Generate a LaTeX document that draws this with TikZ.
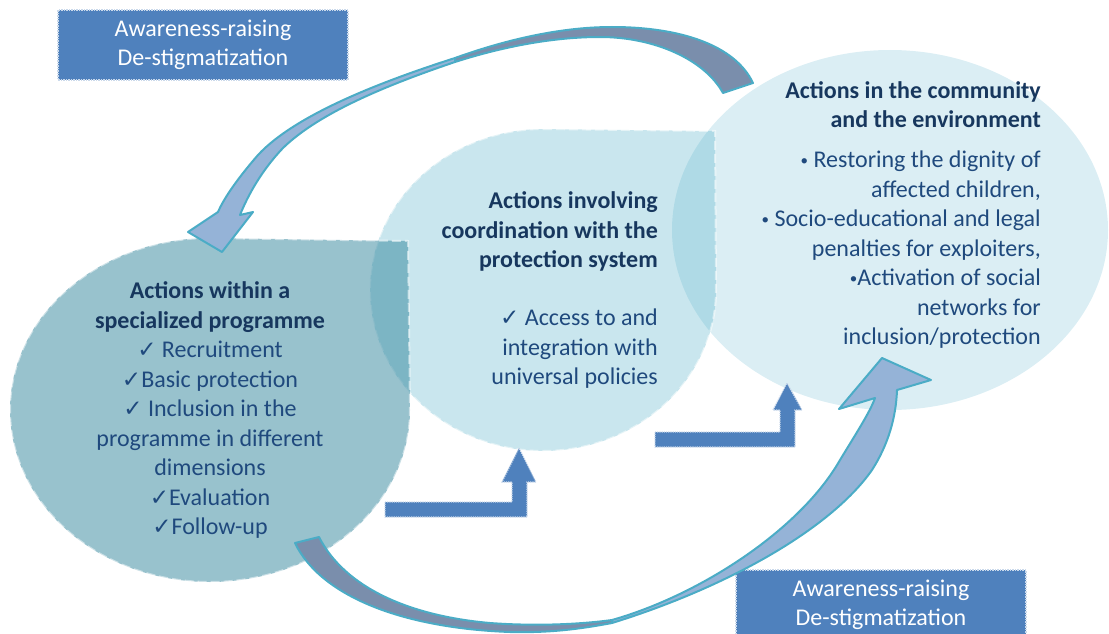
\documentclass[tikz,border=0pt]{standalone}
\usepackage{fontspec}
\setmainfont{Carlito}
\newfontfamily\symfont{DejaVu Sans}
\usepackage{tikz}
\usepackage{xcolor}
\definecolor{progfill}{HTML}{31859C}
\definecolor{coordfill}{HTML}{4BACC6}
\definecolor{headtext}{HTML}{17375E}
\definecolor{bodytext}{HTML}{1F497D}
\definecolor{boxblue}{HTML}{4F81BD}
\definecolor{arrowline}{HTML}{4BACC6}
\definecolor{arrowback}{HTML}{7A8EAC}
\definecolor{arrowfront}{HTML}{95B3D7}

\newcommand{\hd}[1]{{\bfseries\color{headtext}#1}}
\newcommand{\chk}{{\symfont\fontsize{23}{23}\selectfont ✓}}
\newcommand{\bul}{\raisebox{2.5pt}{\fontsize{15}{15}\selectfont •}}

\begin{document}
\begin{tikzpicture}
    [
      x=1pt, y=-1pt,
      every node/.style={font=\fontsize{24}{29.5}\selectfont, inner sep=0pt},
      blob/.style={draw=white, draw opacity=0.5, line width=2pt, dash pattern=on 9pt off 4pt},
      ribbon/.style={draw=arrowline, line width=2pt, line join=round},
      bentarrow/.style={fill=boxblue, draw=boxblue!30, line width=1.2pt, densely dotted},
      awarebox/.style={fill=boxblue, draw=boxblue!30, line width=1.5pt, densely dotted,
        text=white, align=center, minimum width=290pt, minimum height=70pt}
    ]
    \useasboundingbox (0,0) rectangle (1109,634);

    % action fields
    \fill[coordfill, fill opacity=0.2] (890,230) ellipse [x radius=218, y radius=180];
    \filldraw[blob, fill=coordfill, fill opacity=0.3] (543,129) -- (715,131) -- (716,290)
        arc [start angle=0, end angle=270, x radius=173, y radius=161] -- cycle;
    \filldraw[blob, fill=progfill, fill opacity=0.5] (210,238) -- (408,241) -- (410,410)
        arc [start angle=0, end angle=270, x radius=200, y radius=172] -- cycle;

    \node[awarebox] (awaretop) at (203,45) {Awareness-raising\\De-stigmatization};
    \node[awarebox] (awarebot) at (881,605) {Awareness-raising\\De-stigmatization};

    \node[align=center, text=bodytext] (prog) at (210,410)
      {\hd{Actions within a}\\ \hd{specialized programme}\\ \chk\ Recruitment\\
       \chk Basic protection\\ \chk\ Inclusion in the\\ programme in different\\
       dimensions\\ \chk Evaluation\\ \chk Follow-up};
    \node[align=right, text=bodytext, anchor=east] (coord) at (658,290)
      {\hd{Actions involving}\\ \hd{coordination with the}\\ \hd{protection system}\\[28.5pt]
       \chk\ Access to and\\ integration with\\ universal policies};
    \node[align=right, text=bodytext, anchor=east] (comm) at (1041,215)
      {\hd{Actions in the community}\\ \hd{and the environment}\\[10.5pt]
       \bul\ Restoring the dignity of\\ affected children,\\ \bul\ Socio-educational and legal\\
       penalties for exploiters,\\ \bul Activation of social\\ networks for\\ inclusion/protection};

    % curved arrows
    \coordinate (topend) at (222,252);
    \filldraw[ribbon, fill=arrowback] (753,83) .. controls (735,45) and (680,27) .. (612,27)
        .. controls (560,27) and (505,40) .. (455,58) -- (455,62)
        .. controls (505,46) and (555,37) .. (600,37) .. controls (655,37) and (705,60) .. (723,93) -- cycle;
    \filldraw[ribbon, fill=arrowfront] (455,58) .. controls (380,82) and (295,115) .. (258,155)
        .. controls (238,178) and (224,198) .. (218,212) -- (188,232) -- (topend) -- (253,212)
        -- (240,215) .. controls (248,195) and (262,170) .. (283,148)
        .. controls (320,112) and (390,84) .. (455,62) -- cycle;

    \coordinate (botend) at (882,358);
    \filldraw[ribbon, fill=arrowback] (295,543) .. controls (320,595) and (400,628) .. (510,632)
        .. controls (550,633) and (580,629) .. (612,623) -- (612,620)
        .. controls (575,625) and (530,626) .. (490,623) .. controls (410,616) and (345,588) .. (319,537) -- cycle;
    \filldraw[ribbon, fill=arrowfront] (612,620) .. controls (700,595) and (800,530) .. (840,460)
        .. controls (857,432) and (870,412) .. (875,398) -- (839,409) -- (botend) -- (931,380)
        -- (897,390) .. controls (896,418) and (888,445) .. (872,470)
        .. controls (830,530) and (725,588) .. (612,623) -- cycle;

    % bent arrows
    \filldraw[bentarrow] (385,502) -- (512,502) -- (512,482) -- (502,482) -- (519,448)
        -- (536,482) -- (527,482) -- (527,517) -- (385,517) -- cycle;
    \filldraw[bentarrow] (655,432) -- (780,432) -- (780,410) -- (773,410) -- (787,383)
        -- (802,410) -- (795,410) -- (795,447) -- (655,447) -- cycle;
\end{tikzpicture}
\end{document}
